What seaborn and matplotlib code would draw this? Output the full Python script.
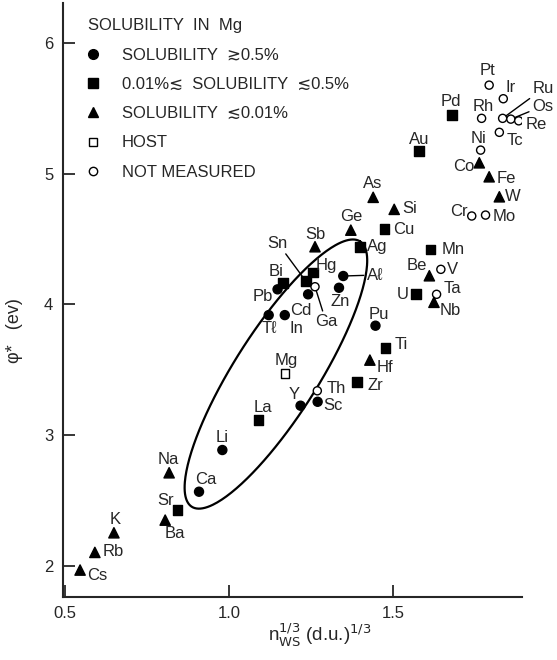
import numpy as np
import pandas as pd
import seaborn as sns
import matplotlib.pyplot as plt
from matplotlib.lines import Line2D

# values
elements = ["Cs", "Rb", "K", "Na", "Sr", "Ba", "Ca", "Li", "La", "Y", "Sc", "Th",
            "Mg", "Tℓ", "In", "Pb", "Bi", "Sn", "Hg", "Ga", "Cd", "Aℓ", "Zn", "Ag",
            "Ge", "Sb", "As", "Si", "Cu", "Mn", "Be", "V", "U", "Ta", "Nb", "Pu",
            "Ti", "Hf", "Zr", "W", "Cr", "Mo", "Pt", "Ir", "Rh", "Ru", "Os", "Re",
            "Tc", "Ni", "Co", "Fe", "Pd", "Au"]
n_ws = [0.547, 0.592, 0.650, 0.818, 0.844, 0.806, 0.909, 0.980, 1.090, 1.218, 1.270, 1.269,
        1.171, 1.121, 1.170, 1.148, 1.165, 1.234, 1.255, 1.262, 1.241, 1.348, 1.335, 1.399,
        1.371, 1.262, 1.439, 1.503, 1.473, 1.614, 1.610, 1.645, 1.569, 1.632, 1.624, 1.446,
        1.477, 1.429, 1.390, 1.823, 1.739, 1.781, 1.792, 1.835, 1.769, 1.833, 1.858, 1.882,
        1.823, 1.766, 1.762, 1.792, 1.678, 1.578]
phi_star = [1.967, 2.102, 2.252, 2.711, 2.426, 2.349, 2.566, 2.885, 3.114, 3.224, 3.254, 3.338,
            3.471, 3.917, 3.917, 4.114, 4.164, 4.177, 4.244, 4.134, 4.076, 4.216, 4.126, 4.440,
            4.567, 4.440, 4.818, 4.726, 4.575, 4.420, 4.218, 4.267, 4.078, 4.076, 4.015, 3.836,
            3.663, 3.573, 3.405, 4.822, 4.675, 4.682, 5.676, 5.572, 5.422, 5.422, 5.416, 5.403,
            5.315, 5.179, 5.082, 4.975, 5.447, 5.170]
solubility = ["low", "low", "low", "low", "mid", "low", "high", "high", "mid", "high", "high", "nm",
              "host", "high", "high", "high", "mid", "mid", "mid", "nm", "high", "high", "high", "mid",
              "low", "low", "low", "low", "mid", "mid", "low", "nm", "mid", "nm", "low", "high",
              "mid", "low", "mid", "low", "nm", "nm", "nm", "nm", "nm", "nm", "nm", "nm",
              "nm", "nm", "low", "low", "mid", "mid"]

cat_order = ["high", "mid", "low", "host", "nm"]
cat_labels = ["SOLUBILITY  \u22730.5%", "0.01%\u2272  SOLUBILITY  \u22720.5%",
              "SOLUBILITY  \u22720.01%", "HOST", "NOT MEASURED"]

# label placement: (dx, dy) in pixels, dy down, and alignment
label_pos = {
    "Cs": (7, 5, "left"), "Rb": (8, -1, "left"), "K": (1, -13, "center"),
    "Na": (-1, -13, "center"), "Sr": (-12, -10, "center"), "Ba": (10, 13, "center"),
    "Ca": (7, -12, "center"), "Li": (0, -13, "center"), "La": (4, -13, "center"),
    "Y": (-6, -11, "center"), "Sc": (6, 4, "left"), "Th": (9, -2, "left"),
    "Mg": (1, -13, "center"), "Tℓ": (1, 13, "center"), "In": (12, 13, "center"),
    "Pb": (-5, 7, "right"), "Bi": (-7, -11, "center"), "Sn": (-28, -38, "center"),
    "Hg": (14, -7, "center"), "Ga": (11, 35, "center"), "Cd": (-7, 16, "center"),
    "Aℓ": (32, -1, "center"), "Zn": (1, 14, "center"), "Ag": (7, 0, "left"),
    "Ge": (0, -14, "center"), "Sb": (0, -12, "center"), "As": (-1, -14, "center"),
    "Si": (8, -1, "left"), "Cu": (9, 0, "left"), "Mn": (11, 0, "left"),
    "Be": (-13, -10, "center"), "V": (6, 0, "left"), "U": (-7, 0, "right"),
    "Ta": (7, -6, "left"), "Nb": (6, 8, "left"), "Pu": (3, -11, "center"),
    "Ti": (9, -4, "left"), "Hf": (7, 7, "left"), "Zr": (10, 3, "left"),
    "W": (6, 0, "left"), "Cr": (-4, -5, "right"), "Mo": (7, 1, "left"),
    "Pt": (-2, -15, "center"), "Ir": (7, -11, "center"), "Rh": (2, -12, "center"),
    "Ru": (41, -30, "center"), "Os": (32, -13, "center"), "Re": (7, 4, "left"),
    "Tc": (7, 8, "left"), "Ni": (-2, -12, "center"), "Co": (-5, 4, "right"),
    "Fe": (7, 2, "left"), "Pd": (-1, -14, "center"), "Au": (0, -12, "center"),
}
leaders = ["Sn", "Ga", "Aℓ", "Ru", "Os"]

df = pd.DataFrame({"elem": elements, "x": n_ws, "y": phi_star, "sol": solubility})

sns.set_style("ticks")
plt.rcParams['font.family'] = ['Liberation Sans', 'DejaVu Sans']

fig = plt.figure(figsize=(5.57, 6.6), dpi=100)
ax = fig.add_axes([0.1131, 0.0959, 0.8235, 0.8995])

markers = {"high": "o", "mid": "s", "low": "^", "host": "s", "nm": "o"}
faces = {"high": "black", "mid": "black", "low": "black", "host": "white", "nm": "white"}
sizes = {"high": 42, "mid": 48, "low": 55, "host": 36, "nm": 34}
sns.scatterplot(data=df, x="x", y="y", hue="sol", style="sol", size="sol",
                hue_order=cat_order, style_order=cat_order, size_order=cat_order,
                palette=faces, markers=markers, sizes=sizes,
                edgecolor="black", linewidth=1.0, legend=False, ax=ax, zorder=3)

for _, r in df.iterrows():
    dx, dy, ha = label_pos[r["elem"]]
    kw = {}
    if r["elem"] in leaders:
        kw["arrowprops"] = dict(arrowstyle="-", color="black", lw=1.0, shrinkA=0, shrinkB=3)
    ax.annotate(r["elem"], (r["x"], r["y"]), xytext=(dx, -dy), textcoords="offset pixels",
                ha=ha, va="center", fontsize=12, **kw)

# solubility envelope drawn around the soluble elements
t = np.linspace(0, 2 * np.pi, 300)
c = np.array([1.143, 3.466])
a = np.array([0.256, 1.015])
b = np.array([0.108, -0.172])
ax.plot(c[0] + a[0] * np.cos(t) + b[0] * np.sin(t),
        c[1] + a[1] * np.cos(t) + b[1] * np.sin(t), color="black", lw=1.6, zorder=2)

ax.set_xlim(0.495, 1.891)
ax.set_ylim(1.763, 6.304)
ax.set_xticks([0.5, 1.0, 1.5])
ax.set_xticklabels(["0.5", "1.0", "1.5"])
ax.set_yticks([2, 3, 4, 5, 6])
ax.tick_params(direction="in", length=8.5, width=1.3, labelsize=12, pad=7)
sns.despine(ax=ax)
for s in ["left", "bottom"]:
    ax.spines[s].set_linewidth(1.5)

ax.set_xlabel(r"n$_{\mathrm{WS}}^{1/3}$ (d.u.)$^{1/3}$", fontsize=13.5)
ax.xaxis.set_label_coords(0.56, -0.042)
ax.set_ylabel("\u03c6*   (ev)", fontsize=13)
ax.yaxis.set_label_coords(-0.088, 0.449)

handles = [Line2D([], [], ls="none", marker=markers[k], markersize=7 if k in ("high", "mid", "low") else 6,
                  markerfacecolor=faces[k], markeredgecolor="black", markeredgewidth=1.0)
           for k in cat_order]
leg = ax.legend(handles, cat_labels, title="SOLUBILITY  IN  Mg", loc="upper left",
                bbox_to_anchor=(0.021, 1.0), frameon=False, fontsize=12, title_fontsize=12,
                alignment="left", handlelength=0.6, handletextpad=1.45, labelspacing=0.86)

fig.savefig("out.png", dpi=100)
